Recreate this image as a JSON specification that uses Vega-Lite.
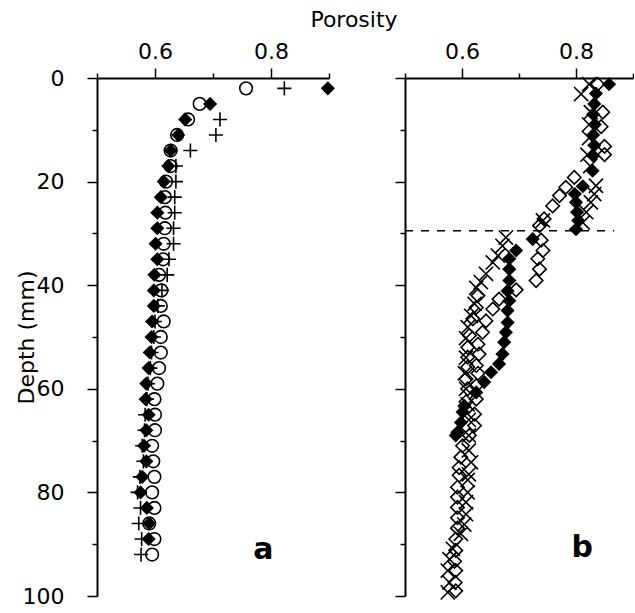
{
  "$schema": "https://vega.github.io/schema/vega-lite/v6.json",
  "background": "white",
  "padding": {"left": 15, "top": 9, "right": 0, "bottom": 5},
  "config": {
    "font": "DejaVu Sans",
    "view": {"stroke": null},
    "axis": {
      "domainColor": "black", "domainWidth": 2, "tickColor": "black", "tickWidth": 1.5,
      "labelColor": "black", "titleColor": "black", "labelFontSize": 22, "titleFontSize": 22,
      "titleFontWeight": "normal", "grid": false, "labelFont": "DejaVu Sans", "titleFont": "DejaVu Sans",
      "labelOverlap": false, "labelFlush": false
    }
  },
  "title": {"text": "Porosity", "fontSize": 22, "fontWeight": "normal", "color": "black", "anchor": "middle", "offset": 8, "dx": 257, "font": "DejaVu Sans", "frame": "group"},
  "spacing": 76,
  "bounds": "flush",
  "datasets": {
    "points": [
      {"panel":"a","series":"fd","depth":2,"porosity":0.898},{"panel":"a","series":"fd","depth":5,"porosity":0.695},{"panel":"a","series":"fd","depth":8,"porosity":0.652},{"panel":"a","series":"fd","depth":11,"porosity":0.640},{"panel":"a","series":"fd","depth":14,"porosity":0.627},{"panel":"a","series":"fd","depth":17,"porosity":0.623},{"panel":"a","series":"fd","depth":20,"porosity":0.615},{"panel":"a","series":"fd","depth":23,"porosity":0.610},{"panel":"a","series":"fd","depth":26,"porosity":0.604},{"panel":"a","series":"fd","depth":29,"porosity":0.604},{"panel":"a","series":"fd","depth":32,"porosity":0.601},{"panel":"a","series":"fd","depth":35,"porosity":0.604},{"panel":"a","series":"fd","depth":38,"porosity":0.599},{"panel":"a","series":"fd","depth":41,"porosity":0.598},{"panel":"a","series":"fd","depth":44,"porosity":0.598},{"panel":"a","series":"fd","depth":47,"porosity":0.595},{"panel":"a","series":"fd","depth":50,"porosity":0.594},{"panel":"a","series":"fd","depth":53,"porosity":0.591},{"panel":"a","series":"fd","depth":56,"porosity":0.589},{"panel":"a","series":"fd","depth":59,"porosity":0.585},{"panel":"a","series":"fd","depth":62,"porosity":0.584},{"panel":"a","series":"fd","depth":65,"porosity":0.589},{"panel":"a","series":"fd","depth":68,"porosity":0.585},{"panel":"a","series":"fd","depth":71,"porosity":0.581},{"panel":"a","series":"fd","depth":74,"porosity":0.585},{"panel":"a","series":"fd","depth":77,"porosity":0.578},{"panel":"a","series":"fd","depth":80,"porosity":0.575},{"panel":"a","series":"fd","depth":83,"porosity":0.586},{"panel":"a","series":"fd","depth":86,"porosity":0.590},{"panel":"a","series":"fd","depth":89,"porosity":0.589},
      {"panel":"a","series":"oc","depth":2,"porosity":0.757},{"panel":"a","series":"oc","depth":5,"porosity":0.677},{"panel":"a","series":"oc","depth":8,"porosity":0.657},{"panel":"a","series":"oc","depth":11,"porosity":0.638},{"panel":"a","series":"oc","depth":14,"porosity":0.627},{"panel":"a","series":"oc","depth":17,"porosity":0.627},{"panel":"a","series":"oc","depth":20,"porosity":0.619},{"panel":"a","series":"oc","depth":23,"porosity":0.617},{"panel":"a","series":"oc","depth":26,"porosity":0.618},{"panel":"a","series":"oc","depth":29,"porosity":0.617},{"panel":"a","series":"oc","depth":32,"porosity":0.615},{"panel":"a","series":"oc","depth":35,"porosity":0.614},{"panel":"a","series":"oc","depth":38,"porosity":0.607},{"panel":"a","series":"oc","depth":41,"porosity":0.611},{"panel":"a","series":"oc","depth":44,"porosity":0.610},{"panel":"a","series":"oc","depth":47,"porosity":0.615},{"panel":"a","series":"oc","depth":50,"porosity":0.610},{"panel":"a","series":"oc","depth":53,"porosity":0.610},{"panel":"a","series":"oc","depth":56,"porosity":0.607},{"panel":"a","series":"oc","depth":59,"porosity":0.604},{"panel":"a","series":"oc","depth":62,"porosity":0.599},{"panel":"a","series":"oc","depth":65,"porosity":0.600},{"panel":"a","series":"oc","depth":68,"porosity":0.600},{"panel":"a","series":"oc","depth":71,"porosity":0.595},{"panel":"a","series":"oc","depth":74,"porosity":0.597},{"panel":"a","series":"oc","depth":77,"porosity":0.599},{"panel":"a","series":"oc","depth":80,"porosity":0.595},{"panel":"a","series":"oc","depth":83,"porosity":0.599},{"panel":"a","series":"oc","depth":86,"porosity":0.590},{"panel":"a","series":"oc","depth":89,"porosity":0.599},{"panel":"a","series":"oc","depth":92,"porosity":0.595},
      {"panel":"a","series":"pl","depth":2,"porosity":0.823},{"panel":"a","series":"pl","depth":8,"porosity":0.712},{"panel":"a","series":"pl","depth":11,"porosity":0.705},{"panel":"a","series":"pl","depth":14,"porosity":0.661},{"panel":"a","series":"pl","depth":17,"porosity":0.636},{"panel":"a","series":"pl","depth":20,"porosity":0.636},{"panel":"a","series":"pl","depth":23,"porosity":0.634},{"panel":"a","series":"pl","depth":26,"porosity":0.634},{"panel":"a","series":"pl","depth":29,"porosity":0.632},{"panel":"a","series":"pl","depth":32,"porosity":0.632},{"panel":"a","series":"pl","depth":35,"porosity":0.624},{"panel":"a","series":"pl","depth":38,"porosity":0.621},{"panel":"a","series":"pl","depth":41,"porosity":0.612},{"panel":"a","series":"pl","depth":44,"porosity":0.605},{"panel":"a","series":"pl","depth":47,"porosity":0.600},{"panel":"a","series":"pl","depth":50,"porosity":0.598},{"panel":"a","series":"pl","depth":53,"porosity":0.594},{"panel":"a","series":"pl","depth":56,"porosity":0.592},{"panel":"a","series":"pl","depth":59,"porosity":0.588},{"panel":"a","series":"pl","depth":62,"porosity":0.586},{"panel":"a","series":"pl","depth":65,"porosity":0.583},{"panel":"a","series":"pl","depth":68,"porosity":0.582},{"panel":"a","series":"pl","depth":71,"porosity":0.578},{"panel":"a","series":"pl","depth":74,"porosity":0.580},{"panel":"a","series":"pl","depth":77,"porosity":0.574},{"panel":"a","series":"pl","depth":80,"porosity":0.570},{"panel":"a","series":"pl","depth":83,"porosity":0.575},{"panel":"a","series":"pl","depth":86,"porosity":0.572},{"panel":"a","series":"pl","depth":89,"porosity":0.577},{"panel":"a","series":"pl","depth":92,"porosity":0.576},
      {"panel":"b","series":"fd","depth":1.2,"porosity":0.858},{"panel":"b","series":"fd","depth":3,"porosity":0.835},{"panel":"b","series":"fd","depth":5,"porosity":0.832},{"panel":"b","series":"fd","depth":7,"porosity":0.830},{"panel":"b","series":"fd","depth":9,"porosity":0.833},{"panel":"b","series":"fd","depth":11,"porosity":0.830},{"panel":"b","series":"fd","depth":13,"porosity":0.832},{"panel":"b","series":"fd","depth":15,"porosity":0.830},{"panel":"b","series":"fd","depth":17.9,"porosity":0.829},{"panel":"b","series":"fd","depth":20.9,"porosity":0.812},{"panel":"b","series":"fd","depth":22.4,"porosity":0.798},{"panel":"b","series":"fd","depth":24,"porosity":0.800},{"panel":"b","series":"fd","depth":25.9,"porosity":0.802},{"panel":"b","series":"fd","depth":27.5,"porosity":0.804},{"panel":"b","series":"fd","depth":29.2,"porosity":0.800},{"panel":"b","series":"fd","depth":31.1,"porosity":0.724},{"panel":"b","series":"fd","depth":33.3,"porosity":0.695},{"panel":"b","series":"fd","depth":34.9,"porosity":0.683},{"panel":"b","series":"fd","depth":36.9,"porosity":0.683},{"panel":"b","series":"fd","depth":39.1,"porosity":0.683},{"panel":"b","series":"fd","depth":41.1,"porosity":0.680},{"panel":"b","series":"fd","depth":43,"porosity":0.683},{"panel":"b","series":"fd","depth":44.9,"porosity":0.680},{"panel":"b","series":"fd","depth":47.2,"porosity":0.680},{"panel":"b","series":"fd","depth":49.1,"porosity":0.677},{"panel":"b","series":"fd","depth":51,"porosity":0.674},{"panel":"b","series":"fd","depth":53.3,"porosity":0.671},{"panel":"b","series":"fd","depth":55.2,"porosity":0.665},{"panel":"b","series":"fd","depth":56.8,"porosity":0.651},{"panel":"b","series":"fd","depth":58.7,"porosity":0.639},{"panel":"b","series":"fd","depth":60.7,"porosity":0.625},{"panel":"b","series":"fd","depth":63.3,"porosity":0.604},{"panel":"b","series":"fd","depth":64.5,"porosity":0.601},{"panel":"b","series":"fd","depth":66.5,"porosity":0.598},{"panel":"b","series":"fd","depth":68.4,"porosity":0.592},{"panel":"b","series":"fd","depth":69,"porosity":0.589},
      {"panel":"b","series":"od","depth":1.2,"porosity":0.838},{"panel":"b","series":"od","depth":6.6,"porosity":0.847},{"panel":"b","series":"od","depth":9.4,"porosity":0.844},{"panel":"b","series":"od","depth":13.2,"porosity":0.850},{"panel":"b","series":"od","depth":14.8,"porosity":0.850},{"panel":"b","series":"od","depth":19.2,"porosity":0.797},{"panel":"b","series":"od","depth":21.1,"porosity":0.782},{"panel":"b","series":"od","depth":22.7,"porosity":0.771},{"panel":"b","series":"od","depth":24.7,"porosity":0.759},{"panel":"b","series":"od","depth":27.2,"porosity":0.744},{"panel":"b","series":"od","depth":28.5,"porosity":0.736},{"panel":"b","series":"od","depth":31.3,"porosity":0.739},{"panel":"b","series":"od","depth":33.3,"porosity":0.742},{"panel":"b","series":"od","depth":34.9,"porosity":0.733},{"panel":"b","series":"od","depth":36.9,"porosity":0.736},{"panel":"b","series":"od","depth":39.1,"porosity":0.730},{"panel":"b","series":"od","depth":40.9,"porosity":0.695},{"panel":"b","series":"od","depth":42.7,"porosity":0.665},{"panel":"b","series":"od","depth":44.6,"porosity":0.654},{"panel":"b","series":"od","depth":46.9,"porosity":0.642},{"panel":"b","series":"od","depth":49.1,"porosity":0.636},{"panel":"b","series":"od","depth":51.4,"porosity":0.628},{"panel":"b","series":"od","depth":53.3,"porosity":0.630},{"panel":"b","series":"od","depth":55.5,"porosity":0.625},{"panel":"b","series":"od","depth":57,"porosity":0.628},{"panel":"b","series":"od","depth":59.4,"porosity":0.625},{"panel":"b","series":"od","depth":62,"porosity":0.625},{"panel":"b","series":"od","depth":64.9,"porosity":0.622},{"panel":"b","series":"od","depth":67.1,"porosity":0.622},{"panel":"b","series":"od","depth":69,"porosity":0.613},
      {"panel":"b","series":"od","depth":42,"porosity":0.628},{"panel":"b","series":"od","depth":44.3,"porosity":0.625},{"panel":"b","series":"od","depth":46.5,"porosity":0.619},{"panel":"b","series":"od","depth":49.7,"porosity":0.613},{"panel":"b","series":"od","depth":52,"porosity":0.610},{"panel":"b","series":"od","depth":53.9,"porosity":0.610},{"panel":"b","series":"od","depth":55.8,"porosity":0.610},{"panel":"b","series":"od","depth":58.1,"porosity":0.607},{"panel":"b","series":"od","depth":60,"porosity":0.610},{"panel":"b","series":"od","depth":62.5,"porosity":0.607},{"panel":"b","series":"od","depth":71,"porosity":0.601},{"panel":"b","series":"od","depth":73.2,"porosity":0.598},{"panel":"b","series":"od","depth":75.2,"porosity":0.595},{"panel":"b","series":"od","depth":76.7,"porosity":0.595},{"panel":"b","series":"od","depth":79,"porosity":0.592},{"panel":"b","series":"od","depth":80.9,"porosity":0.592},{"panel":"b","series":"od","depth":82.9,"porosity":0.592},{"panel":"b","series":"od","depth":84.9,"porosity":0.592},{"panel":"b","series":"od","depth":86.9,"porosity":0.592},{"panel":"b","series":"od","depth":89,"porosity":0.589},{"panel":"b","series":"od","depth":91.2,"porosity":0.589},{"panel":"b","series":"od","depth":93.3,"porosity":0.587},{"panel":"b","series":"od","depth":95.1,"porosity":0.589},{"panel":"b","series":"od","depth":97.4,"porosity":0.588},{"panel":"b","series":"od","depth":99,"porosity":0.589},
      {"panel":"b","series":"x","depth":1.2,"porosity":0.823},{"panel":"b","series":"x","depth":3.1,"porosity":0.809},{"panel":"b","series":"x","depth":6.6,"porosity":0.826},{"panel":"b","series":"x","depth":9,"porosity":0.823},{"panel":"b","series":"x","depth":11.6,"porosity":0.823},{"panel":"b","series":"x","depth":14.8,"porosity":0.820},{"panel":"b","series":"x","depth":17,"porosity":0.825},{"panel":"b","series":"x","depth":20.8,"porosity":0.835},{"panel":"b","series":"x","depth":22.4,"porosity":0.832},{"panel":"b","series":"x","depth":24,"porosity":0.826},{"panel":"b","series":"x","depth":25.9,"porosity":0.818},{"panel":"b","series":"x","depth":27.9,"porosity":0.812},{"panel":"b","series":"x","depth":27.5,"porosity":0.742},{"panel":"b","series":"x","depth":30.8,"porosity":0.677},{"panel":"b","series":"x","depth":32.4,"porosity":0.671},{"panel":"b","series":"x","depth":34.3,"porosity":0.663},{"panel":"b","series":"x","depth":35.6,"porosity":0.654},{"panel":"b","series":"x","depth":37.8,"porosity":0.642},{"panel":"b","series":"x","depth":39.4,"porosity":0.633},{"panel":"b","series":"x","depth":40.5,"porosity":0.625},{"panel":"b","series":"x","depth":43.6,"porosity":0.622},{"panel":"b","series":"x","depth":45.9,"porosity":0.616},{"panel":"b","series":"x","depth":48.1,"porosity":0.610},{"panel":"b","series":"x","depth":50.2,"porosity":0.607},{"panel":"b","series":"x","depth":54,"porosity":0.607},{"panel":"b","series":"x","depth":57,"porosity":0.605},{"panel":"b","series":"x","depth":60,"porosity":0.607},{"panel":"b","series":"x","depth":63,"porosity":0.610},{"panel":"b","series":"x","depth":66,"porosity":0.612},{"panel":"b","series":"x","depth":69,"porosity":0.612},{"panel":"b","series":"x","depth":71.9,"porosity":0.612},{"panel":"b","series":"x","depth":74.2,"porosity":0.616},{"panel":"b","series":"x","depth":76.5,"porosity":0.612},{"panel":"b","series":"x","depth":77.6,"porosity":0.610},{"panel":"b","series":"x","depth":80,"porosity":0.610},{"panel":"b","series":"x","depth":81.9,"porosity":0.607},{"panel":"b","series":"x","depth":84.2,"porosity":0.607},{"panel":"b","series":"x","depth":86.2,"porosity":0.604},{"panel":"b","series":"x","depth":88,"porosity":0.598},{"panel":"b","series":"x","depth":90.9,"porosity":0.584},{"panel":"b","series":"x","depth":92.9,"porosity":0.578},{"panel":"b","series":"x","depth":95.1,"porosity":0.575},{"panel":"b","series":"x","depth":97.4,"porosity":0.578},{"panel":"b","series":"x","depth":99.3,"porosity":0.575}
    ],
    "labels": [{"panel": "a", "label": "a"}, {"panel": "b", "label": "b"}]
  },
  "hconcat": [
    {
      "width": 232,
      "height": 518,
      "layer": [
        {"data": {"name": "points"}, "transform": [{"filter": "datum.panel === 'a' && datum.series === 'fd'"}],
         "mark": {"type": "point", "shape": "diamond", "filled": true, "size": 200, "color": "black", "opacity": 1},
         "encoding": {
          "x": {"field": "porosity", "type": "quantitative",
            "scale": {"domain": [0.5, 0.9], "nice": false, "zero": false},
            "axis": {"orient": "top", "title": null, "values": [0.5, 0.55, 0.6, 0.65, 0.7, 0.75, 0.8, 0.85, 0.9], "format": ".1f",
              "labelExpr": "(abs(datum.value-0.6)<0.001 || abs(datum.value-0.8)<0.001) ? datum.label : ''",
              "tickSize": {"condition": {"test": "abs(datum.value-0.6)<0.001 || abs(datum.value-0.8)<0.001", "value": 10}, "value": 5},
              "labelPadding": 5}},
          "y": {"field": "depth", "type": "quantitative",
            "scale": {"domain": [0, 100], "reverse": true, "nice": false, "zero": false},
            "axis": {"title": "Depth (mm)", "titlePadding": -16, "values": [0,5,10,15,20,25,30,35,40,45,50,55,60,65,70,75,80,85,90,95,100],
              "labelExpr": "datum.value % 20 === 0 ? datum.label + '\u00a0\u2009' : ''",
              "tickSize": {"condition": {"test": "datum.value % 20 === 0", "value": 10}, "value": 5},
              "labelPadding": 23}}
         }},
        {"data": {"name": "points"}, "transform": [{"filter": "datum.panel === 'a' && datum.series === 'oc'"}],
         "mark": {"type": "point", "shape": "circle", "filled": false, "size": 160, "stroke": "black", "strokeWidth": 1.6, "opacity": 1},
         "encoding": {"x": {"field": "porosity", "type": "quantitative"}, "y": {"field": "depth", "type": "quantitative"}}},
        {"data": {"name": "points"}, "transform": [{"filter": "datum.panel === 'a' && datum.series === 'pl'"}],
         "mark": {"type": "point", "shape": "M-1,0L1,0M0,-1L0,1", "filled": false, "size": 200, "stroke": "black", "strokeWidth": 1.6, "opacity": 1},
         "encoding": {"x": {"field": "porosity", "type": "quantitative"}, "y": {"field": "depth", "type": "quantitative"}}},
        {"data": {"name": "labels"}, "transform": [{"filter": "datum.panel === 'a'"}],
         "mark": {"type": "text", "fontSize": 30, "fontWeight": "bold", "font": "DejaVu Sans", "color": "black", "align": "center", "baseline": "alphabetic"},
         "encoding": {"x": {"datum": 0.787, "type": "quantitative"}, "y": {"datum": 92.9, "type": "quantitative"}, "text": {"field": "label", "type": "nominal"}}}
      ]
    },
    {
      "width": 228,
      "height": 518,
      "layer": [
        {"data": {"name": "points"}, "transform": [{"filter": "datum.panel === 'b' && datum.series === 'fd'"}],
         "mark": {"type": "point", "shape": "diamond", "filled": true, "size": 200, "color": "black", "opacity": 1},
         "encoding": {
          "x": {"field": "porosity", "type": "quantitative",
            "scale": {"domain": [0.5, 0.9], "nice": false, "zero": false},
            "axis": {"orient": "top", "title": null, "values": [0.5, 0.55, 0.6, 0.65, 0.7, 0.75, 0.8, 0.85, 0.9], "format": ".1f",
              "labelExpr": "(abs(datum.value-0.6)<0.001 || abs(datum.value-0.8)<0.001) ? datum.label : ''",
              "tickSize": {"condition": {"test": "abs(datum.value-0.6)<0.001 || abs(datum.value-0.8)<0.001", "value": 10}, "value": 5},
              "labelPadding": 5}},
          "y": {"field": "depth", "type": "quantitative",
            "scale": {"domain": [0, 100], "reverse": true, "nice": false, "zero": false},
            "axis": {"title": null, "labels": false, "values": [0,5,10,15,20,25,30,35,40,45,50,55,60,65,70,75,80,85,90,95,100],
              "tickSize": {"condition": {"test": "datum.value % 20 === 0", "value": 10}, "value": 5}}}
         }},
        {"data": {"name": "points"}, "transform": [{"filter": "datum.panel === 'b' && datum.series === 'od'"}],
         "mark": {"type": "point", "shape": "diamond", "filled": false, "size": 180, "stroke": "black", "strokeWidth": 1.6, "opacity": 1},
         "encoding": {"x": {"field": "porosity", "type": "quantitative"}, "y": {"field": "depth", "type": "quantitative"}}},
        {"data": {"name": "points"}, "transform": [{"filter": "datum.panel === 'b' && datum.series === 'x'"}],
         "mark": {"type": "point", "shape": "M-1,-1L1,1M-1,1L1,-1", "filled": false, "size": 200, "stroke": "black", "strokeWidth": 1.6, "opacity": 1},
         "encoding": {"x": {"field": "porosity", "type": "quantitative"}, "y": {"field": "depth", "type": "quantitative"}}},
        {"data": {"name": "labels"}, "transform": [{"filter": "datum.panel === 'b'"}],
         "mark": {"type": "rule", "color": "black", "strokeWidth": 1.5, "strokeDash": [8, 8]},
         "encoding": {"x": {"datum": 0.5, "type": "quantitative"}, "x2": {"datum": 0.867}, "y": {"datum": 29.5, "type": "quantitative"}}},
        {"data": {"name": "labels"}, "transform": [{"filter": "datum.panel === 'b'"}],
         "mark": {"type": "text", "fontSize": 30, "fontWeight": "bold", "font": "DejaVu Sans", "color": "black", "align": "center", "baseline": "alphabetic"},
         "encoding": {"x": {"datum": 0.811, "type": "quantitative"}, "y": {"datum": 92.5, "type": "quantitative"}, "text": {"field": "label", "type": "nominal"}}}
      ]
    }
  ]
}
